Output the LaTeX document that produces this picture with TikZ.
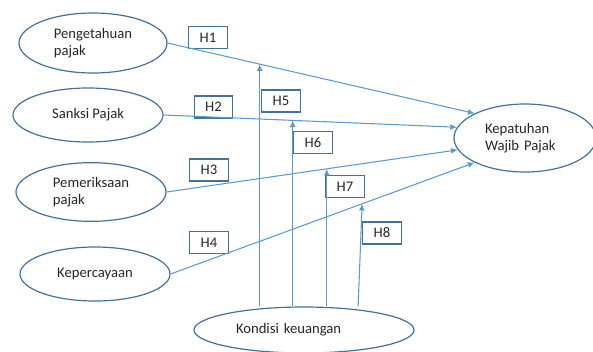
\documentclass[tikz,border=0pt]{standalone}
\usepackage{fontspec}
\setmainfont{Carlito}
\usetikzlibrary{shapes.geometric,arrows.meta}
\definecolor{rim}{HTML}{41719C}
\definecolor{lineblue}{HTML}{5B9BD5}
\tikzset{
  var/.style={ellipse,draw=rim,line width=0.9pt,inner sep=0pt,align=left,
    text=black!85,font=\fontsize{11}{13}\selectfont},
  hyp/.style={rectangle,draw=rim,line width=0.8pt,minimum width=29pt,
    minimum height=16.5pt,inner sep=0pt,text=black!85,font=\fontsize{11}{13}\selectfont},
  link/.style={color=lineblue,line width=0.8pt,-{Latex[length=5pt,width=4.5pt]}}
}
\begin{document}
\begin{tikzpicture}[x=0.75pt,y=-0.75pt]
      \useasboundingbox (0,0) rectangle (593,351);
      \node[var,minimum width=111pt,minimum height=45pt] (pp) at (93,43) {Pengetahuan\\pajak};
      \node[var,minimum width=112.5pt,minimum height=40.5pt] (sp) at (88,115) {Sanksi Pajak};
      \node[var,minimum width=112.5pt,minimum height=44pt] (pm) at (91,192) {Pemeriksaan\\pajak};
      \node[var,minimum width=112.5pt,minimum height=40.5pt] (kp) at (95,274) {Kepercayaan};
      \node[var,text width=60pt,minimum width=106.5pt,minimum height=51pt] (kwp) at (525,138) {Kepatuhan\\Wajib Pajak};
      \node[var,text width=102pt,minimum width=165pt,minimum height=34.5pt] (kk) at (304,330) {Kondisi keuangan};
      \node[hyp] (h1) at (208,37.5) {H1};
      \node[hyp] (h2) at (213.5,107) {H2};
      \node[hyp] (h3) at (209,170) {H3};
      \node[hyp] (h4) at (209,242.5) {H4};
      \node[hyp] (h5) at (281,101) {H5};
      \node[hyp] (h6) at (313,142.5) {H6};
      \node[hyp] (h7) at (345,186.5) {H7};
      \node[hyp] (h8) at (382,233) {H8};
      \begin{scope}[link]
        \draw (pp.east) -- coordinate[pos=0.30] (m1) (kwp.154);
        \draw (sp.east) -- coordinate[pos=0.44] (m2) (kwp.171);
        \draw (pm.east) -- coordinate[pos=0.55] (m3) (kwp.190);
        \draw (kp.east) -- coordinate[pos=0.63] (m4) (kwp.206);
        \draw (m1 |- kk.north) -- (m1);
        \draw (m2 |- kk.north) -- (m2);
        \draw (m3 |- kk.north) -- (m3);
        \draw ([xshift=-3pt]m4 |- kk.north) -- (m4);
      \end{scope}
    \end{tikzpicture}
\end{document}
